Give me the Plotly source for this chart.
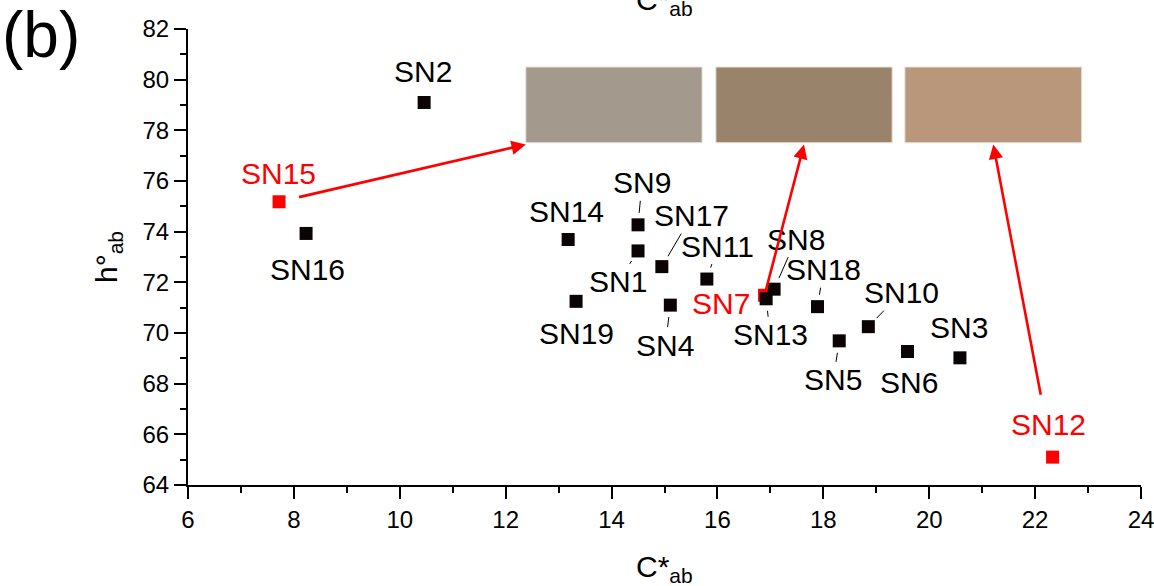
import plotly.graph_objects as go

# ---------------- data ----------------
names = ["SN1", "SN2", "SN3", "SN4", "SN5", "SN6", "SN7", "SN8", "SN9", "SN10",
         "SN11", "SN12", "SN13", "SN14", "SN15", "SN16", "SN17", "SN18", "SN19"]
c_ab = [14.50, 10.46, 20.58, 15.11, 18.30, 19.59, 16.89, 17.07, 14.50, 18.85,
        15.80, 22.33, 16.92, 13.18, 7.72, 8.23, 14.95, 17.89, 13.33]
h_ab = [73.24, 79.10, 69.02, 71.10, 69.69, 69.27, 71.49, 71.73, 74.27, 70.25,
        72.13, 65.10, 71.35, 73.69, 75.18, 73.93, 72.62, 71.04, 71.25]
highlighted = ["SN15", "SN7", "SN12"]          # red samples, each linked to a colour swatch
x_ticks = [6, 8, 10, 12, 14, 16, 18, 20, 22, 24]
y_ticks = [64, 66, 68, 70, 72, 74, 76, 78, 80, 82]

# ---------------- layout / style constants ----------------
FONT = "Liberation Sans, Arial, sans-serif"
swatch_colors = ["#A3998C", "#9A836B", "#B9977A"]
swatch_x0 = [12.38, 15.97, 19.54]
swatch_x1 = [15.71, 19.30, 22.88]
swatch_y0, swatch_y1 = 77.51, 80.50
# arrow target on each swatch: fraction along the bottom edge
swatch_target_frac = [0.0, 0.5, 0.5]
arrow_start_standoff = {"SN15": 19, "SN7": 4, "SN12": 62}

# label offsets (pixels) and whether a leader line is drawn
label_offset = {
    "SN1": (-20, 31, True), "SN2": (-1, -31, False), "SN3": (-1, -30, False),
    "SN4": (-5, 40, True), "SN5": (-6, 39, True), "SN6": (1, 31, False),
    "SN7": (-44, 8, False), "SN8": (22, -50, True), "SN9": (4, -42, True),
    "SN10": (33, -34, True), "SN11": (11, -33, True), "SN12": (-4, -33, False),
    "SN13": (4, 36, True), "SN14": (-2, -28, False), "SN15": (-1, -28, False),
    "SN16": (1, 36, False), "SN17": (30, -51, True), "SN18": (6, -37, True),
    "SN19": (0, 32, False),
}

W, H = 1154, 586
ML, MR, MT, MB = 188, 13, 29, 101
PW, PH = W - ML - MR, H - MT - MB

fig = go.Figure()

red_idx = [i for i, n in enumerate(names) if n in highlighted]
blk_idx = [i for i, n in enumerate(names) if n not in highlighted]

fig.add_trace(go.Scatter(
    x=[c_ab[i] for i in red_idx], y=[h_ab[i] for i in red_idx],
    mode="markers", marker=dict(symbol="square", size=13, color="#FF0000",
                                line=dict(width=0)),
    showlegend=False, hoverinfo="skip"))
fig.add_trace(go.Scatter(
    x=[c_ab[i] for i in blk_idx], y=[h_ab[i] for i in blk_idx],
    mode="markers", marker=dict(symbol="square", size=13, color="#0A0404",
                                line=dict(width=0)),
    showlegend=False, hoverinfo="skip"))

annotations = []
for n, cx, hy in zip(names, c_ab, h_ab):
    dx, dy, leader = label_offset[n]
    red = n in highlighted
    annotations.append(dict(
        x=cx, y=hy, xref="x", yref="y", text=n, showarrow=True,
        ax=dx, ay=dy, arrowhead=0, arrowwidth=1,
        arrowcolor="#000000" if leader else "rgba(0,0,0,0)",
        standoff=12, startstandoff=0,
        font=dict(family=FONT, size=30, color="#FF0000" if red else "#000000"),
        xanchor="center", yanchor="middle"))

shapes = []
for col, x0, x1 in zip(swatch_colors, swatch_x0, swatch_x1):
    shapes.append(dict(type="rect", xref="x", yref="y", x0=x0, x1=x1,
                       y0=swatch_y0, y1=swatch_y1, fillcolor=col,
                       line=dict(color="#E8E2DA", width=1), layer="above"))

for n, x0, x1, frac in zip(highlighted, swatch_x0, swatch_x1, swatch_target_frac):
    i = names.index(n)
    annotations.append(dict(
        x=x0 + frac * (x1 - x0), y=swatch_y0 - 0.07, xref="x", yref="y",
        ax=c_ab[i], ay=h_ab[i], axref="x", ayref="y", text="",
        showarrow=True, arrowhead=2, arrowsize=1.1, arrowwidth=2.6,
        arrowcolor="#FF0000", standoff=0, startstandoff=arrow_start_standoff[n]))

def px_to_paper_x(px):
    return (px - ML) / PW

def px_to_paper_y(py):
    return (H - MB - py) / PH

# panel tag
annotations.append(dict(text="(b)", x=px_to_paper_x(41), y=px_to_paper_y(35),
                        xref="paper", yref="paper", showarrow=False,
                        xanchor="center", yanchor="middle",
                        font=dict(family=FONT, size=64, color="#000000")))
# axis titles
annotations.append(dict(text="C*<sub>ab</sub>", x=px_to_paper_x(664), y=px_to_paper_y(568),
                        xref="paper", yref="paper", showarrow=False,
                        xanchor="center", yanchor="middle",
                        font=dict(family=FONT, size=30, color="#000000")))
# title of the panel above, cut off at the top edge as in the source figure
annotations.append(dict(text="C*<sub>ab</sub>", x=px_to_paper_x(664), y=px_to_paper_y(1),
                        xref="paper", yref="paper", showarrow=False,
                        xanchor="center", yanchor="middle",
                        font=dict(family=FONT, size=30, color="#000000")))
annotations.append(dict(text="h°<sub>ab</sub>", x=px_to_paper_x(108), y=px_to_paper_y(257),
                        xref="paper", yref="paper", showarrow=False, textangle=-90,
                        xanchor="center", yanchor="middle",
                        font=dict(family=FONT, size=30, color="#000000")))

axis_common = dict(showgrid=False, zeroline=False, showline=True, linecolor="#000000",
                   linewidth=2, ticks="outside", ticklen=12, tickwidth=2,
                   tickcolor="#000000", mirror=False, ticklabeloverflow="allow",
                   automargin=False,
                   tickfont=dict(family=FONT, size=24, color="#000000"))

fig.update_layout(
    width=W, height=H, autosize=False,
    margin=dict(l=ML, r=MR, t=MT, b=MB, pad=0, autoexpand=False),
    paper_bgcolor="#FFFFFF", plot_bgcolor="#FFFFFF",
    xaxis=dict(range=[6, 24], tickvals=x_ticks,
               minor=dict(dtick=1, ticks="outside", ticklen=6, tickwidth=2,
                          tickcolor="#000000", showgrid=False),
               **axis_common),
    yaxis=dict(range=[64, 82], tickvals=y_ticks,
               minor=dict(dtick=1, ticks="outside", ticklen=6, tickwidth=2,
                          tickcolor="#000000", showgrid=False),
               **axis_common),
    shapes=shapes, annotations=annotations, showlegend=False,
)

fig.write_html("out.html", config={"displayModeBar": False},
               post_script="document.body.style.margin='0';")
